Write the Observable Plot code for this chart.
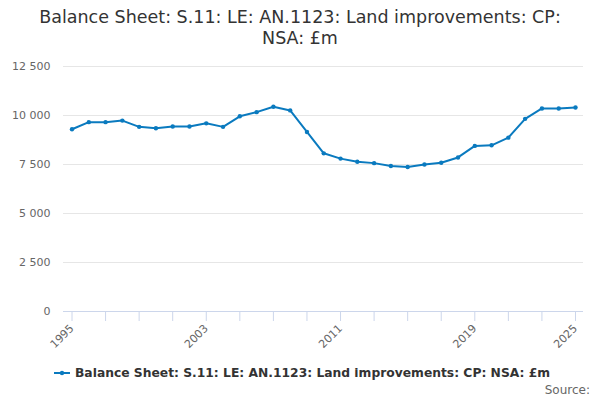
<!DOCTYPE html>
<html>
<head>
<meta charset="utf-8">
<script src="https://cdn.jsdelivr.net/npm/d3@7"></script>
<script src="https://cdn.jsdelivr.net/npm/@observablehq/plot@0.6"></script>
<style>
  html, body { margin: 0; padding: 0; background: #fff; }
  body { width: 600px; height: 400px; position: relative; overflow: hidden; font-family: "DejaVu Sans", sans-serif; }
  #title { position: absolute; top: 7px; left: 0; width: 600px; text-align: center; font-size: 17.5px; line-height: 21px; color: #333; }
  #chart { position: absolute; top: 50px; left: 0; }
  #legend { position: absolute; top: 366px; left: 54px; font-size: 12.3px; font-weight: bold; color: #333; display: flex; align-items: center; }
  #source { position: absolute; top: 383px; right: 10px; font-size: 12px; color: #666; }
</style>
</head>
<body>
<div id="title">Balance Sheet: S.11: LE: AN.1123: Land improvements: CP:<br>NSA: £m</div>
<div id="chart"></div>
<div id="legend"><svg width="16" height="12"><line x1="0" y1="6" x2="16" y2="6" stroke="#0a7abf" stroke-width="2"/><circle cx="8" cy="6" r="2.2" fill="#0a7abf"/></svg><span style="margin-left:5px">Balance Sheet: S.11: LE: AN.1123: Land improvements: CP: NSA: £m</span></div>
<div id="source">Source:</div>
<script>
const years = [1995,1996,1997,1998,1999,2000,2001,2002,2003,2004,2005,2006,2007,2008,2009,2010,2011,2012,2013,2014,2015,2016,2017,2018,2019,2020,2021,2022,2023,2024,2025];
const values = [9300,9660,9660,9740,9420,9350,9440,9440,9600,9420,9960,10170,10450,10260,9160,8070,7800,7640,7570,7420,7370,7500,7590,7860,8450,8480,8870,9830,10360,10360,10410];
const yTicks = [0,2500,5000,7500,10000,12500];
const xTicks = [1995,1997,1999,2001,2003,2005,2007,2009,2011,2013,2015,2017,2019,2021,2023,2025];
const xLabels = [1995,2003,2011,2019,2025];
const seriesName = "Balance Sheet: S.11: LE: AN.1123: Land improvements: CP: NSA: £m";

const data = years.map((y, i) => ({year: y, value: values[i]}));
const color = "#0a7abf";
const fmt = d => d3.format(",")(d).replace(/,/g, " ");

const chart = Plot.plot({
  width: 600,
  height: 300,
  marginLeft: 63,
  marginRight: 17,
  marginTop: 16,
  marginBottom: 39,
  style: {fontFamily: "DejaVu Sans, sans-serif", fontSize: "11px", color: "#666", background: "#fff"},
  x: {domain: [1995, 2025], insetLeft: 8.5, insetRight: 8},
  y: {domain: [0, 12500]},
  marks: [
    Plot.ruleY(yTicks.filter(d => d > 0), {stroke: "#e6e6e6", strokeOpacity: 1}),
    Plot.axisY({ticks: yTicks, tickSize: 0, tickPadding: 13, tickFormat: fmt, label: null, fill: "#666"}),
    Plot.ruleY([0], {stroke: "#ccd6eb", strokeOpacity: 1}),
    Plot.axisX({ticks: xTicks, tickSize: 10, stroke: "#ccd6eb", strokeOpacity: 1, tickRotate: -45, tickPadding: 5,
      tickFormat: d => xLabels.includes(d) ? String(d) : "", label: null, fill: "#666"}),
    Plot.line(data, {x: "year", y: "value", stroke: color, strokeWidth: 2}),
    Plot.dot(data, {x: "year", y: "value", fill: color, r: 2.2})
  ]
});
document.getElementById("chart").appendChild(chart);
</script>
</body>
</html>
